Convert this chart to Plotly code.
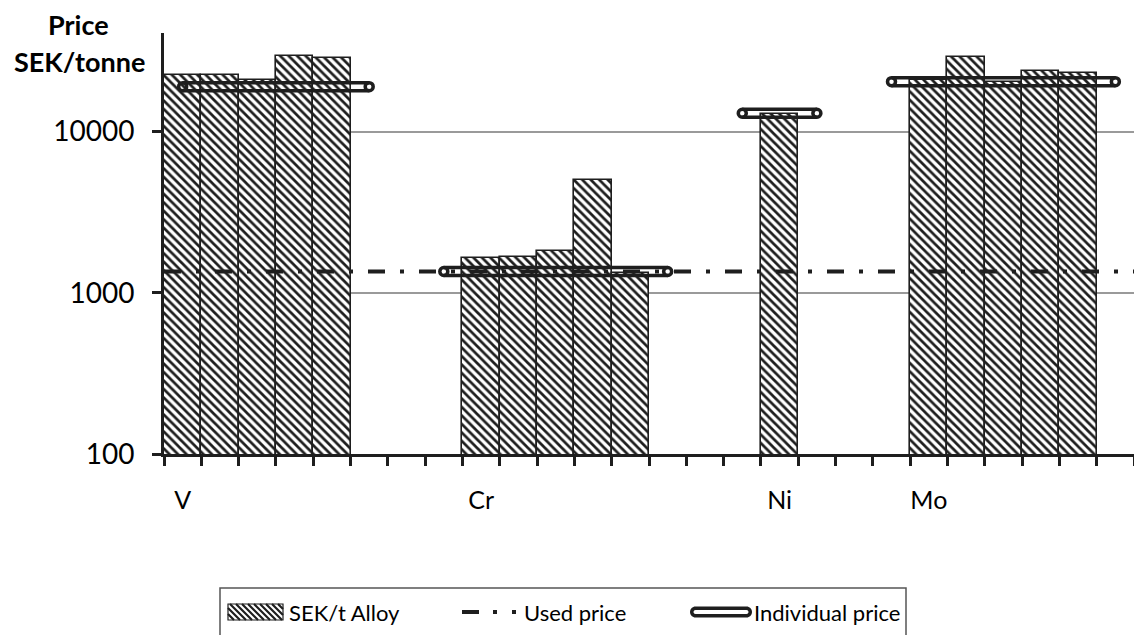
import plotly.graph_objects as go

# Category slots along the x axis (26 slots, labelled only at the start of each group)
slot_labels = ["V", "", "", "", "", "", "", "", "Cr", "", "", "", "", "", "", "",
               "Ni", "", "", "", "Mo", "", "", "", "", ""]

# Alloy price per slot, SEK/tonne (None = empty slot)
alloy_price = [22300, 22500, 21000, 29400, 28800, None, None, None,
               1640, 1660, 1820, 5030, 1330, None, None, None,
               12800, None, None, None,
               20800, 29000, 20400, 23800, 23200, None]

# Individual price per element, spanning its group
individual_price = ([19000] * 6 + [None] + [1355] * 7 + [None] +
                    [13000] * 3 + [None] + [20400] * 7)

# Common price used for all elements
used_price = 1355

INK = "#1e1e1e"
FONT = "Lato"

# Plot area in pixels
L, R, T, B = 164, 1134, 33, 454
W, H = R - L, B - T
DECADE = 161.2


def px(x):
    return (x - L) / W


def py(y):
    return (B - y) / H


slots = list(range(len(slot_labels)))

fig = go.Figure()

fig.add_trace(go.Bar(
    x=slots, y=alloy_price, width=1.0,
    marker=dict(color="white",
                line=dict(color=INK, width=1.6),
                pattern=dict(shape="\\", size=6, solidity=0.45,
                             fgcolor=INK, bgcolor="white", fillmode="replace")),
    showlegend=False, hoverinfo="skip"))

# Used price: long dash-dot across the whole axis
fig.add_trace(go.Scatter(
    x=[-0.5, 25.5], y=[used_price, used_price], mode="lines",
    line=dict(color=INK, width=4, dash="17px,15px,4px,15px"),
    showlegend=False, hoverinfo="skip"))

# Individual price: drawn as a double (outlined) line with rounded ends
off = 10 ** (4.0 / DECADE)
upper = [v * off if v is not None else None for v in individual_price]
lower = [v / off if v is not None else None for v in individual_price]
for ys in (upper, lower):
    fig.add_trace(go.Scatter(
        x=slots, y=ys, mode="lines", line=dict(color=INK, width=3.5),
        connectgaps=False, showlegend=False, hoverinfo="skip"))

end_x, end_y = [], []
for i, v in enumerate(individual_price):
    if v is None:
        continue
    prev_v = individual_price[i - 1] if i > 0 else None
    next_v = individual_price[i + 1] if i + 1 < len(individual_price) else None
    if prev_v is None or next_v is None:
        end_x.append(i)
        end_y.append(v)
fig.add_trace(go.Scatter(
    x=end_x, y=end_y, mode="markers",
    marker=dict(symbol="circle-open", size=8, color=INK,
                line=dict(color=INK, width=3.5)),
    showlegend=False, hoverinfo="skip"))

label_pos = [i for i, s in enumerate(slot_labels) if s]
fig.update_xaxes(
    range=[-0.5, 25.5], showgrid=False, zeroline=False,
    showline=True, linecolor=INK, linewidth=3,
    tickmode="array", tickvals=label_pos,
    ticktext=[slot_labels[i] for i in label_pos],
    ticks="", ticklabelstandoff=22,
    tickfont=dict(family=FONT, size=25, color="black"),
    minor=dict(tickmode="array", tickvals=[i - 0.5 for i in range(27)],
               ticks="outside", ticklen=9, tickwidth=3, tickcolor=INK,
               showgrid=False))

fig.update_yaxes(
    type="log", range=[2, 2 + H / DECADE],
    tickmode="array", tickvals=[100, 1000, 10000],
    ticktext=["100", "1000", "10000"],
    ticks="outside", ticklen=9, tickwidth=3, tickcolor=INK,
    ticklabelstandoff=12,
    showline=True, linecolor=INK, linewidth=3,
    showgrid=True, gridcolor="#9a9a9a", gridwidth=1.5, zeroline=False,
    tickfont=dict(family=FONT, size=28, color="black"))

shapes = []
annotations = []

# Axis title
annotations.append(dict(text="<b>Price</b>", xref="paper", yref="paper",
                        x=px(78), y=py(25), xanchor="center", yanchor="middle",
                        showarrow=False, font=dict(family=FONT, size=27, color="black")))
annotations.append(dict(text="<b>SEK/tonne</b>", xref="paper", yref="paper",
                        x=px(79), y=py(61), xanchor="center", yanchor="middle",
                        showarrow=False, font=dict(family=FONT, size=27, color="black")))

# Legend frame
shapes.append(dict(type="rect", xref="paper", yref="paper",
                   x0=px(220), x1=px(906), y0=py(588), y1=py(660),
                   line=dict(color="#555555", width=1.5), fillcolor="rgba(0,0,0,0)"))

LY = 612

# Hatched swatch
sx0, sx1, sy0, sy1 = 228, 283, 604, 620
sh = sy1 - sy0
segs = []
a = sx0 - sh
while a < sx1:
    t0 = max(0, sx0 - a)
    t1 = min(sh, sx1 - a)
    if t1 > t0:
        segs.append("M{:.5f},{:.5f}L{:.5f},{:.5f}".format(
            px(a + t0), py(sy0 + t0), px(a + t1), py(sy0 + t1)))
    a += 6
shapes.append(dict(type="path", xref="paper", yref="paper", path="".join(segs),
                   line=dict(color=INK, width=2.2)))
shapes.append(dict(type="rect", xref="paper", yref="paper",
                   x0=px(sx0), x1=px(sx1), y0=py(sy0), y1=py(sy1),
                   line=dict(color=INK, width=1.2), fillcolor="rgba(0,0,0,0)"))

# Dash-dot swatch
shapes.append(dict(type="line", xref="paper", yref="paper",
                   x0=px(462), x1=px(518), y0=py(LY), y1=py(LY),
                   line=dict(color=INK, width=4, dash="17px,14px,4px,15px,4px")))


def stadium(x0, x1, yc, r):
    k = 0.5523 * r
    pts = [
        ("M", [(x0 + r, yc - r)]),
        ("L", [(x1 - r, yc - r)]),
        ("C", [(x1 - r + k, yc - r), (x1, yc - k), (x1, yc)]),
        ("C", [(x1, yc + k), (x1 - r + k, yc + r), (x1 - r, yc + r)]),
        ("L", [(x0 + r, yc + r)]),
        ("C", [(x0 + r - k, yc + r), (x0, yc + k), (x0, yc)]),
        ("C", [(x0, yc - k), (x0 + r - k, yc - r), (x0 + r, yc - r)]),
    ]
    out = ""
    for cmd, ps in pts:
        out += cmd + " ".join("{:.5f},{:.5f}".format(px(x), py(y)) for x, y in ps)
    return out + "Z"


shapes.append(dict(type="path", xref="paper", yref="paper",
                   path=stadium(690, 752, LY, 5.5), fillcolor=INK,
                   line=dict(width=0)))
shapes.append(dict(type="path", xref="paper", yref="paper",
                   path=stadium(693.5, 748.5, LY, 2), fillcolor="white",
                   line=dict(width=0)))

for text, x in (("SEK/t Alloy", 287), ("Used price", 522), ("Individual price", 752)):
    annotations.append(dict(text=text, xref="paper", yref="paper",
                            x=px(x), y=py(LY), xanchor="left", yanchor="middle",
                            showarrow=False,
                            font=dict(family=FONT, size=22, color="black")))

fig.update_layout(
    width=1134, height=635,
    margin=dict(l=L, r=1134 - R, t=T, b=635 - B, pad=0),
    paper_bgcolor="white", plot_bgcolor="white",
    bargap=0, showlegend=False,
    shapes=shapes, annotations=annotations)

fig.write_html("out.html")
